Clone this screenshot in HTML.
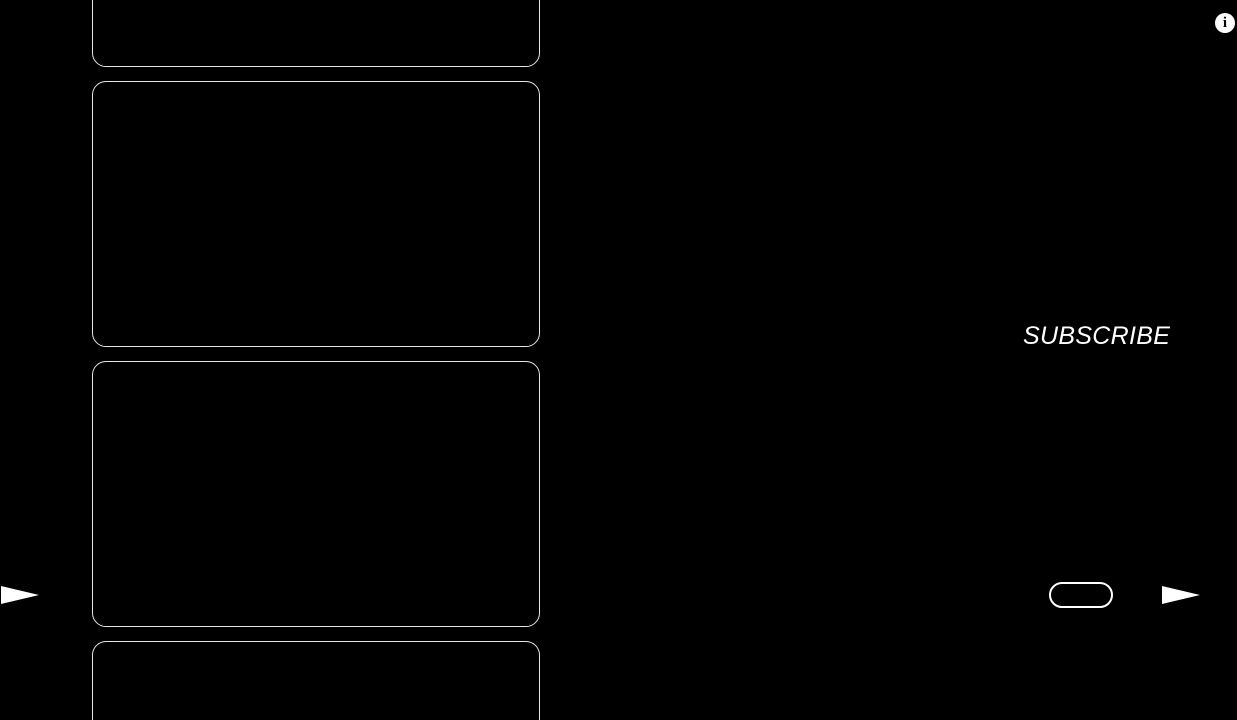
<!DOCTYPE html>
<html><head><style>
html,body{margin:0;padding:0;background:#000;width:1237px;height:720px;overflow:hidden;position:relative;font-family:"Liberation Sans",sans-serif}
.b{position:absolute;left:92px;width:446px;height:264px;border:1.5px solid #e6e6e6;border-radius:14px;box-sizing:content-box}
.t{position:absolute;width:0;height:0;border-top:9px solid transparent;border-bottom:9px solid transparent;border-left:38px solid #fff}
</style></head><body>
<div class="b" style="top:-199px"></div>
<div class="b" style="top:81px"></div>
<div class="b" style="top:361px"></div>
<div class="b" style="top:641px;height:100px;border-bottom:none;height:79px;border-radius:14px 14px 0 0"></div>
<div class="t" style="left:1px;top:586px"></div>
<div class="t" style="left:1162px;top:586px"></div>
<div style="position:absolute;left:1049px;top:582px;width:60px;height:22px;border:2px solid #fff;border-radius:13px"></div>
<div style="position:absolute;left:1023px;top:322px;color:#fff;font-style:italic;font-size:25px;letter-spacing:0.3px">SUBSCRIBE</div>
<div style="position:absolute;left:1215px;top:13px;width:20px;height:20px;border-radius:50%;background:#fff;color:#000;font-weight:bold;font-size:15px;text-align:center;line-height:20px;font-family:'Liberation Serif',serif">i</div>
</body></html>
